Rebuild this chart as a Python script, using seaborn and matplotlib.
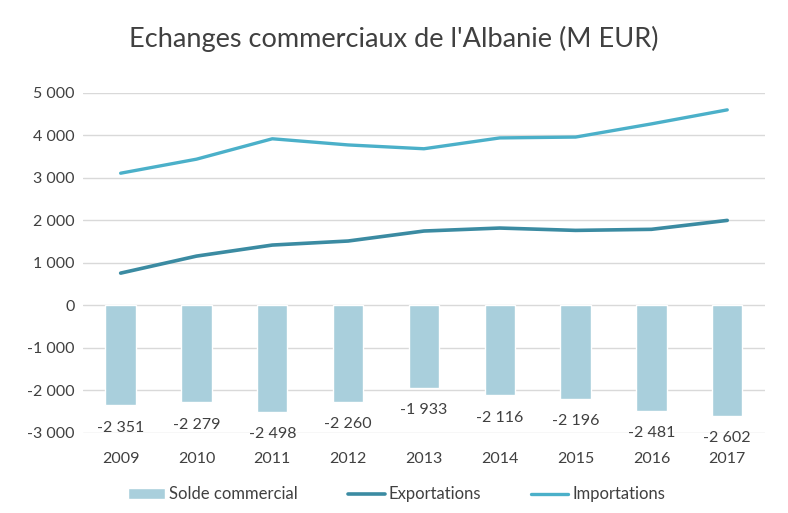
import numpy as np
import pandas as pd
import seaborn as sns
import matplotlib.pyplot as plt

years = ['2009', '2010', '2011', '2012', '2013', '2014', '2015', '2016', '2017']
solde = [-2351, -2279, -2498, -2260, -1933, -2116, -2196, -2481, -2602]
exportations = [760, 1160, 1420, 1515, 1750, 1820, 1765, 1790, 2000]
importations = [3110, 3440, 3920, 3775, 3685, 3940, 3960, 4270, 4600]

c_bar = '#A9CFDC'
c_exp = '#3B8BA2'
c_imp = '#4BB0C9'
txt = '#404040'

sns.set_style('white')
plt.rcParams['font.family'] = ['Lato', 'DejaVu Sans']

df = pd.DataFrame({'annee': years, 'solde': solde,
                   'exp': exportations, 'imp': importations})
df['pos'] = np.arange(len(years))

fig = plt.figure(figsize=(7.88, 5.13), dpi=100)
ax = fig.add_axes([0.105, 0.156, 0.866, 0.663])

sns.barplot(data=df, x='annee', y='solde', color=c_bar, width=0.4,
            saturation=1, label='Solde commercial', ax=ax, zorder=2)
sns.lineplot(data=df, x='pos', y='exp', color=c_exp, linewidth=2.6,
             label='Exportations', ax=ax, zorder=3)
sns.lineplot(data=df, x='pos', y='imp', color=c_imp, linewidth=2.4,
             label='Importations', ax=ax, zorder=3)

def fmt(v):
    return f'{v:,}'.replace(',', ' ')

for i, v in enumerate(solde):
    ax.annotate(fmt(v), (i, v), xytext=(0, -16), textcoords='offset points',
                ha='center', va='center', fontsize=11.5, color=txt)

ax.set_xlim(-0.5, len(years) - 0.5)
ax.set_ylim(-3000, 5000)
ax.set_yticks(range(-3000, 5001, 1000))
ax.set_yticklabels([fmt(t) for t in range(-3000, 5001, 1000)])
ax.set_xticks(range(len(years)))
ax.set_xticklabels(years)
ax.tick_params(axis='both', length=0, labelsize=11.5, labelcolor=txt)
ax.tick_params(axis='x', pad=14)
ax.tick_params(axis='y', pad=6)
ax.set_xlabel('')
ax.set_ylabel('')
ax.grid(axis='y', color='#D9D9D9', linewidth=1, zorder=0)
ax.set_axisbelow(True)
for s in ax.spines.values():
    s.set_visible(False)

handles, labels = ax.get_legend_handles_labels()
order = [labels.index(n) for n in ['Solde commercial', 'Exportations', 'Importations']]
ax.legend([handles[i] for i in order], [labels[i] for i in order],
          loc='upper center', bbox_to_anchor=(0.46, -0.113), ncol=3,
          frameon=False, fontsize=12, labelcolor=txt, handlelength=2.2,
          handletextpad=0.25, columnspacing=3.0)

fig.text(0.5, 0.925, "Echanges commerciaux de l'Albanie (M EUR)",
         ha='center', va='center', fontsize=19.5, color=txt)

fig.savefig('out.png', dpi=100)
